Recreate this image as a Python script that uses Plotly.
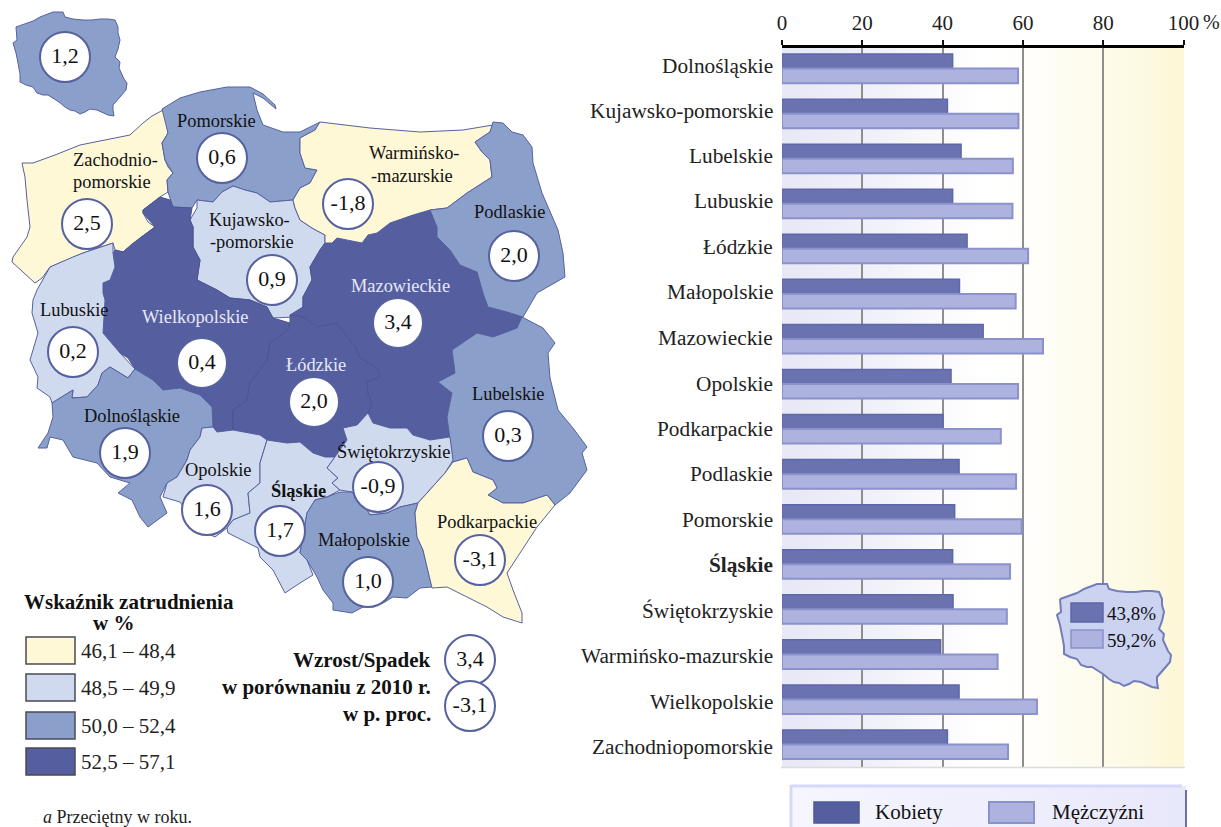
import plotly.graph_objects as go

SERIF = "Liberation Serif"

# ---------- bar chart data ----------
REGIONS = ["Dolnośląskie", "Kujawsko-pomorskie", "Lubelskie", "Lubuskie", "Łódzkie", "Małopolskie",
           "Mazowieckie", "Opolskie", "Podkarpackie", "Podlaskie", "Pomorskie", "Śląskie",
           "Świętokrzyskie", "Warmińsko-mazurskie", "Wielkopolskie", "Zachodniopomorskie"]
WOMEN = [42.5, 41.2, 44.6, 42.5, 46.1, 44.2, 50.1, 42.1, 40.1, 44.1, 43.0, 42.5, 42.6, 39.5, 44.1, 41.2]
MEN = [58.8, 58.9, 57.5, 57.4, 61.3, 58.2, 65.0, 58.8, 54.5, 58.3, 59.7, 56.8, 56.0, 53.7, 63.5, 56.3]
X_TICKS = [0, 20, 40, 60, 80, 100]
LABEL_Y = [65.5, 110.5, 155.5, 200.5, 246.5, 291.5, 337.5, 383.5, 428.5, 473.5, 519.5, 564.5, 610.5, 655.5, 701.5, 746.5]

# ---------- map outlines, picture coordinates ----------
POLAND = [(16,27),(25,24),(33,21),(40,17),(47,14),(53,12),(63,12),(65,17),(73,19),(83,20),(92,20),(100,19),(108,19),(115,20),
          (118,27),(118,33),(120,40),(118,49),(115,57),(120,62),(119,68),(121,73),(124,79),(127,83),(126,90),(120,97),(113,105),
          (113,110),(114,116),(108,115),(103,113),(97,110),(90,109),(85,112),(80,114),(75,111),(70,110),(65,107),(59,102),(53,98),
          (48,95),(43,95),(37,93),(33,87),(26,85),(20,82),(20,74),(18,63),(16,53),(13,43),(17,40),(16,27)]
ZACHODNIO = [(163,110),(152,116),(143,123),(130,135),(105,140),(80,145),(55,155),(33,163),(22,163),(25,177),(27,200),(30,227),
             (27,237),(13,257),(12,262),(24,273),(35,283),(42,278),(50,267),(62,262),(73,257),(83,253),(95,249),(107,245),(113,243),
             (115,250),(123,252),(132,244),(140,238),(155,227),(148,222),(143,213),(143,210),(152,203),(160,197),(168,192),(167,180),
             (173,173),(168,167),(165,160),(163,150),(162,143),(168,133),(167,120),(163,110)]
POMORSKIE = [(162,109),(180,98),(200,92),(227,87),(250,87),(263,94),(275,105),(276,109),(263,98),(253,93),(257,110),(263,125),
             (283,132),(300,132),(310,127),(320,122),(315,130),(300,138),(300,153),(305,168),(317,170),(310,183),(300,188),(293,200),
             (270,202),(257,193),(245,190),(233,186),(222,192),(213,202),(197,200),(192,208),(173,207),(168,192),(167,180),(173,173),
             (165,160),(162,143),(168,133),(162,109)]
KUJAWSKO = [(197,200),(213,202),(222,192),(233,186),(245,190),(257,193),(270,202),(293,200),(295,208),(300,220),(312,228),(325,235),
            (325,243),(320,250),(310,267),(312,280),(303,297),(303,307),(293,317),(273,318),(267,307),(250,300),(230,298),(217,290),
            (197,280),(200,260),(193,247),(193,227),(190,220),(197,208),(197,200)]
WIELKOPOLSKIE = [(160,197),(170,200),(173,207),(192,208),(190,220),(193,227),(193,247),(200,260),(197,280),(217,290),(230,298),
                 (250,300),(267,307),(273,318),(290,323),(288,330),(270,343),(267,360),(250,383),(247,400),(233,410),(233,430),
                 (217,432),(213,427),(212,407),(200,395),(180,388),(163,390),(153,380),(135,369),(128,358),(120,353),(105,337),
                 (103,333),(105,300),(103,293),(103,283),(110,280),(115,267),(113,253),(115,250),(123,252),(140,238),(155,227),
                 (143,213),(143,210),(160,197)]
LODZKIE = [(290,315),(303,317),(317,327),(337,323),(347,337),(355,347),(360,358),(377,368),(380,377),(367,382),(368,395),(372,403),
           (368,413),(370,420),(357,425),(343,428),(347,440),(335,457),(325,457),(313,453),(300,442),(287,443),(267,440),(260,435),
           (233,430),(233,410),(247,400),(250,383),(267,360),(270,343),(288,330),(290,323),(290,315)]
MAZOWIECKIE = [(332,243),(337,238),(362,243),(368,235),(377,233),(390,223),(413,215),(430,210),(437,227),(437,237),(450,250),(460,265),
               (477,272),(483,293),(488,307),(507,312),(522,317),(517,328),(493,337),(477,333),(452,350),(455,373),(438,382),(452,393),
               (447,417),(450,437),(430,440),(413,435),(407,428),(390,428),(373,423),(368,413),(372,403),(368,395),(367,382),(380,377),
               (377,368),(360,358),(355,347),(347,337),(337,323),(317,327),(303,317),(290,315),(303,307),(303,297),(312,280),(310,267),
               (320,250),(325,243),(332,243)]
WARMINSKO = [(320,122),(370,128),(420,132),(463,130),(493,125),(490,132),(475,142),(482,152),(490,160),(492,177),(467,193),(447,208),
             (430,210),(413,215),(390,223),(377,233),(368,235),(362,243),(337,238),(332,243),(325,243),(325,235),(312,228),(300,220),
             (295,208),(293,200),(300,188),(310,183),(317,170),(305,168),(300,153),(300,138),(315,130),(320,122)]
PODLASKIE = [(493,122),(503,123),(512,132),(523,135),(532,147),(533,163),(542,193),(550,212),(558,230),(563,253),(565,277),(537,293),
             (523,317),(507,312),(488,307),(483,293),(477,272),(460,265),(450,250),(437,237),(437,227),(430,210),(447,208),(467,193),
             (492,177),(490,160),(482,152),(475,142),(490,132),(493,122)]
LUBELSKIE = [(452,350),(477,333),(493,337),(517,328),(522,317),(543,328),(555,343),(548,353),(550,378),(558,410),(573,428),(587,447),(582,453),
             (587,470),(570,493),(555,505),(547,495),(523,503),(503,503),(488,495),(497,488),(493,480),(473,472),(467,458),(453,462),
             (450,437),(447,417),(452,393),(438,382),(455,373),(452,350)]
LUBUSKIE = [(37,290),(50,267),(73,257),(83,253),(107,245),(113,243),(113,253),(115,267),(110,280),(103,283),(103,293),(105,300),
            (103,333),(120,353),(135,369),(128,378),(110,367),(102,373),(98,385),(87,397),(72,398),(73,390),(52,403),(50,397),
            (37,388),(38,377),(30,360),(35,343),(38,333),(32,313),(33,300),(37,290)]
DOLNOSLASKIE = [(52,403),(73,390),(72,398),(87,397),(98,385),(102,373),(110,367),(128,378),(135,369),(153,380),(163,390),(180,388),
                (200,395),(212,407),(213,427),(202,428),(200,437),(190,450),(187,460),(177,477),(167,483),(160,497),(167,513),(148,527),
                (140,517),(132,500),(118,493),(130,483),(110,477),(97,463),(73,457),(63,440),(50,437),(47,448),(38,448),(48,433),
                (53,417),(52,403)]
OPOLSKIE = [(202,428),(213,427),(217,432),(233,430),(260,435),(267,440),(260,463),(260,483),(248,493),(250,513),(233,520),(227,528),
            (215,537),(200,530),(180,502),(163,497),(167,483),(177,477),(187,460),(190,450),(200,437),(202,428)]
SLASKIE = [(267,440),(287,443),(300,442),(313,453),(325,457),(335,457),(327,468),(338,478),(332,483),(340,490),(327,497),(315,500),
           (307,513),(300,553),(307,560),(313,575),(300,583),(290,590),(285,593),(273,570),(260,557),(258,548),(228,533),(227,528),
           (233,520),(250,513),(248,493),(260,483),(260,463),(267,440)]
SWIETOKRZYSKIE = [(368,413),(373,423),(390,428),(407,428),(413,435),(430,440),(450,437),(453,460),(445,473),(430,490),(418,503),
                  (400,507),(387,513),(370,515),(367,510),(352,492),(340,490),(332,483),(338,478),(327,468),(335,457),(347,440),
                  (343,428),(357,425),(368,413)]
MALOPOLSKIE = [(307,513),(315,500),(327,497),(340,492),(352,492),(367,510),(370,515),(387,513),(400,507),(418,503),(415,513),(417,537),
               (423,550),(427,567),(432,587),(420,588),(407,598),(393,597),(383,603),(363,607),(352,613),(333,610),(333,603),(323,590),
               (317,577),(307,560),(300,553),(307,513)]
PODKARPACKIE = [(453,462),(467,458),(473,472),(493,480),(497,488),(488,495),(503,503),(523,503),(547,495),(555,505),(537,527),(507,573),
                (513,590),(522,613),(522,623),(503,617),(487,607),(467,597),(447,587),(432,588),(427,567),(423,550),(417,537),(415,513),
                (418,503),(430,490),(445,473),(453,462)]

YELLOW, LIGHT, MID, DARK = "#fff8d6", "#cfdaef", "#8b9fcb", "#555fa0"
EDGE = "#56619f"
INNER_EDGE = "#4a5592"
MAP_AREAS = [(ZACHODNIO, YELLOW), (POMORSKIE, MID), (KUJAWSKO, LIGHT), (WIELKOPOLSKIE, DARK), (MAZOWIECKIE, DARK),
             (LODZKIE, DARK), (WARMINSKO, YELLOW), (PODLASKIE, MID), (LUBELSKIE, MID), (LUBUSKIE, LIGHT),
             (DOLNOSLASKIE, MID), (OPOLSKIE, LIGHT), (SLASKIE, LIGHT), (SWIETOKRZYSKIE, LIGHT), (MALOPOLSKIE, MID),
             (PODKARPACKIE, YELLOW), (POLAND, MID)]

CHANGE_TEXT = ["1,2", "0,6", "2,5", "0,9", "-1,8", "2,0", "3,4", "0,4", "0,2", "2,0", "1,9", "1,6", "1,7", "-0,9", "1,0", "-3,1", "0,3", "3,4", "-3,1"]
CHANGE_X = [65, 222, 87, 272, 348, 514, 398, 202, 73, 314, 125, 207, 280, 378, 368, 480, 508, 470, 470]
CHANGE_Y = [57, 158, 224, 280, 204, 256, 323, 363, 352, 402, 453, 510, 531, 487, 582, 560, 436, 660, 706]

MAP_LABELS = [("Pomorskie", 216, 121, "#111"), ("Zachodnio-", 115, 160, "#111"), ("pomorskie", 112, 182, "#111"),
              ("Kujawsko-", 249, 220, "#111"), ("-pomorskie", 252, 242, "#111"), ("Warmińsko-", 414, 153, "#111"),
              ("-mazurskie", 412, 176, "#111"), ("Podlaskie", 510, 212, "#111"), ("Mazowieckie", 400, 286, "#e6e9f6"),
              ("Wielkopolskie", 195, 317, "#e6e9f6"), ("Łódzkie", 316, 365, "#e6e9f6"), ("Lubuskie", 74, 310, "#111"),
              ("Dolnośląskie", 132, 416, "#111"), ("Opolskie", 218, 470, "#111"), ("<b>Śląskie</b>", 298, 490, "#111"),
              ("Świętokrzyskie", 393, 451, "#111"), ("Małopolskie", 364, 540, "#111"), ("Podkarpackie", 487, 522, "#111"),
              ("Lubelskie", 508, 394, "#111")]

LEGEND_RANGES = ["46,1 – 48,4", "48,5 – 49,9", "50,0 – 52,4", "52,5 – 57,1"]
LEGEND_COLORS = [YELLOW, LIGHT, MID, DARK]
LEGEND_TOPS = [637, 674, 712, 748]


def xs(p, dx=0):
    return [a + dx for a, _ in p]


def ys(p, dy=0):
    return [b + dy for _, b in p]


fig = go.Figure()

# gradient panels (bottom layer)
fig.add_trace(go.Scatter(x=[782, 1184, 1184, 782, 782], y=[46, 46, 767, 767, 46], mode="lines", fill="toself",
                         line=dict(width=0), hoverinfo="skip", showlegend=False,
                         fillgradient=dict(type="horizontal", colorscale=[[0, "#e7e8f5"], [0.2, "#eeeff8"], [0.42, "#fbfbfe"], [0.5, "#ffffff"],
                                                                          [0.62, "#fffefa"], [0.75, "#fefcee"], [0.9, "#fdf9e2"], [1, "#fdf6d6"]])))
fig.add_trace(go.Scatter(x=[791, 1186, 1186, 791, 791], y=[786, 786, 827, 827, 786], mode="lines", fill="toself",
                         line=dict(width=0), hoverinfo="skip", showlegend=False,
                         fillgradient=dict(type="horizontal", colorscale=[[0, "#f6f6ff"], [1, "#e8e8fb"]])))

# map
for poly, colour in MAP_AREAS:
    fig.add_trace(go.Scatter(x=xs(poly), y=ys(poly), mode="lines", fill="toself", fillcolor=colour,
                             line=dict(color=INNER_EDGE if colour == DARK else EDGE, width=1), hoverinfo="skip", showlegend=False))
fig.add_trace(go.Scatter(x=CHANGE_X, y=CHANGE_Y, mode="markers+text", text=CHANGE_TEXT, textposition="middle center",
                         textfont=dict(family=SERIF, size=22, color="#111"),
                         marker=dict(size=50, color="#ffffff", line=dict(color=EDGE, width=2)),
                         hoverinfo="skip", showlegend=False))

# bars
fig.add_trace(go.Bar(y=REGIONS, x=WOMEN, orientation="h", name="Kobiety", xaxis="x2", yaxis="y2", showlegend=False,
                     marker=dict(color="#6a73b0", line=dict(color="#5d67a9", width=1.5))))
fig.add_trace(go.Bar(y=REGIONS, x=MEN, orientation="h", name="Mężczyźni", xaxis="x2", yaxis="y2", showlegend=False,
                     marker=dict(color="#adb2de", line=dict(color="#8a91cb", width=2))))

# inset Poland above the grid
fig.add_trace(go.Scatter(x=xs(POLAND, 1044), y=ys(POLAND, 572), mode="lines", fill="toself", fillcolor="#ccd3f1",
                         line=dict(color="#727dba", width=2), xaxis="x3", yaxis="y3", hoverinfo="skip", showlegend=False))

W, H = 1221, 827
AX0, AX100 = 782, 1183.5
TOP, BOTTOM = 48, 767
PITCH = 45.06
# first row centre at 68.6
r0 = (TOP - 68.6) / PITCH
r1 = (BOTTOM - 68.6) / PITCH

shapes = []
for col, top in zip(LEGEND_COLORS, LEGEND_TOPS):
    shapes.append(dict(type="rect", xref="x", yref="y", x0=26, x1=75, y0=top, y1=top + 27, fillcolor=col,
                       line=dict(color="#4a4a55", width=1.5)))
shapes += [
    dict(type="rect", xref="x", yref="y", x0=1071, x1=1103, y0=603, y1=622, fillcolor="#6a73b0", line=dict(color="#5d67a9", width=1.5)),
    dict(type="rect", xref="x", yref="y", x0=1071, x1=1103, y0=630, y1=648, fillcolor="#adb2de", line=dict(color="#8a91cb", width=1.5)),
    dict(type="rect", xref="x", yref="y", x0=814, x1=859, y0=802, y1=823, fillcolor="#555fa0", line=dict(color="#4e5899", width=1.5)),
    dict(type="rect", xref="x", yref="y", x0=989, x1=1034, y0=802, y1=823, fillcolor="#adb2de", line=dict(color="#8a91cb", width=2)),
    dict(type="line", xref="x", yref="y", x0=791, x1=1182, y0=786, y1=786, line=dict(color="#d5d8fb", width=3)),
    dict(type="line", xref="x", yref="y", x0=791, x1=791, y0=785, y1=827, line=dict(color="#d5d8fb", width=3)),
    dict(type="line", xref="x", yref="y", x0=1186, x1=1186, y0=790, y1=827, line=dict(color="#6a70b0", width=2)),
    dict(type="line", xref="x", yref="y", x0=781, x1=1185, y0=767.5, y1=767.5, line=dict(color="#dcdcdc", width=1.5)),
]

annotations = []


def note(text, x, y, size=18, color="#111", anchor="center"):
    annotations.append(dict(text=text, x=x, y=y, xref="x", yref="y", showarrow=False, xanchor=anchor, yanchor="middle",
                            font=dict(family=SERIF, size=size, color=color)))


for text, x, y, colour in MAP_LABELS:
    note(text, x, y, 18.4, colour)
for name, y in zip(REGIONS, LABEL_Y):
    note(f"<b>{name}</b>" if name == "Śląskie" else name, 775, y, 21.3, "#222", "right")
for text, top in zip(LEGEND_RANGES, LEGEND_TOPS):
    note(text, 78.5, top + 14, 21, "#222", "left")
note("<b>Wskaźnik zatrudnienia</b>", 129, 602, 21)
note("<b>w %</b>", 113, 623, 21)
note("<b>Wzrost/Spadek</b>", 433, 660, 21, anchor="right")
note("<b>w porównaniu z 2010 r.</b>", 433, 687, 21, anchor="right")
note("<b>w p. proc.</b>", 433, 714, 21, anchor="right")
note("<i>a</i> Przeciętny w roku.", 41, 817, 18, "#222", "left")
note("%", 1201, 22, 20, "#222", "left")
note("43,8%", 1105, 613, 19, "#111", "left")
note("59,2%", 1105, 640, 19, "#111", "left")
note("Kobiety", 873, 812, 21, "#111", "left")
note("Mężczyźni", 1050, 812, 21, "#111", "left")

hidden = dict(visible=False, showgrid=False, zeroline=False, fixedrange=True)
fig.update_layout(
    width=W, height=H, margin=dict(l=0, r=0, t=0, b=0, pad=0, autoexpand=False), autosize=False,
    paper_bgcolor="#ffffff", plot_bgcolor="rgba(0,0,0,0)", showlegend=False,
    barmode="group", bargap=0.355, bargroupgap=0,
    xaxis=dict(domain=[0, 1], range=[0, W], anchor="y", **hidden),
    yaxis=dict(domain=[0, 1], range=[H, 0], anchor="x", **hidden),
    xaxis3=dict(domain=[0, 1], range=[0, W], anchor="y3", **hidden),
    yaxis3=dict(domain=[0, 1], range=[H, 0], anchor="x3", **hidden),
    xaxis2=dict(domain=[AX0 / W, AX100 / W], range=[0, 100], anchor="y2", side="top", tickvals=X_TICKS,
                ticks="outside", ticklen=5, tickwidth=2, tickcolor="#111", showline=True, linecolor="#000", linewidth=3,
                showgrid=True, gridcolor="#8e8e8e", gridwidth=2, zeroline=False, ticklabelstandoff=2,
                tickfont=dict(family=SERIF, size=21, color="#222"), fixedrange=True),
    yaxis2=dict(domain=[1 - BOTTOM / H, 1 - TOP / H], type="category", categoryorder="array", categoryarray=REGIONS,
                range=[r1, r0], anchor="x2", showticklabels=False, ticks="", showgrid=False, zeroline=False,
                showline=False, fixedrange=True),
    shapes=shapes, annotations=annotations,
)

fig.write_html("out.html", config={"displayModeBar": False},
               post_script="document.body.style.margin='0';document.body.style.overflow='hidden';")
